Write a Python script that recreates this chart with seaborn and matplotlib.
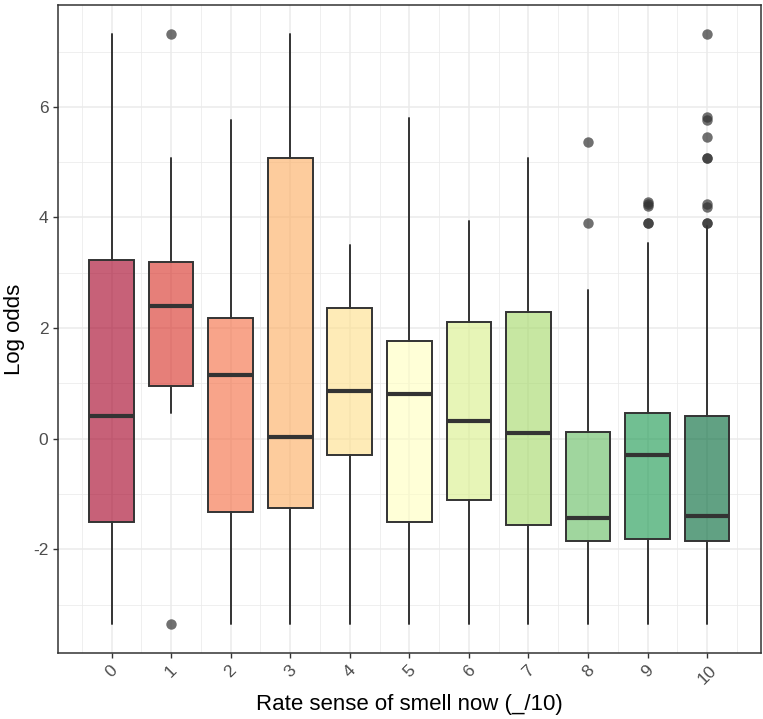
import numpy as np
import seaborn as sns
import matplotlib.pyplot as plt
from matplotlib.ticker import MultipleLocator

# values (log odds by smell rating)
ratings = ["0", "1", "2", "3", "4", "5", "6", "7", "8", "9", "10"]
q1 = [-1.50, 0.95, -1.33, -1.26, -0.30, -1.51, -1.11, -1.56, -1.84, -1.81, -1.84]
med = [0.42, 2.40, 1.16, 0.03, 0.87, 0.80, 0.32, 0.10, -1.44, -0.29, -1.39]
q3 = [3.23, 3.19, 2.18, 5.08, 2.36, 1.77, 2.11, 2.29, 0.13, 0.46, 0.42]
whis_lo = [-3.34, 0.46, -3.34, -3.34, -3.34, -3.34, -3.34, -3.34, -3.34, -3.34, -3.34]
whis_hi = [7.31, 5.08, 5.76, 7.31, 3.51, 5.80, 3.94, 5.08, 2.69, 3.53, 3.85]
outliers = [
    [],
    [7.31, -3.35],
    [],
    [],
    [],
    [],
    [],
    [],
    [5.37, 3.90],
    [4.28, 4.21, 4.24, 3.90, 3.90],
    [7.31, 5.82, 5.76, 5.46, 5.08, 5.08, 4.25, 4.19, 3.90, 3.90],
]

# brewer RdYlGn, 11 classes
box_colors = ["#a50026", "#d73027", "#f46d43", "#fdae61", "#fee08b", "#ffffbf",
              "#d9ef8b", "#a6d96a", "#66bd63", "#1a9850", "#006837"]

sns.set_theme(style="whitegrid")
plt.rcParams['font.family'] = ['Liberation Sans', 'DejaVu Sans']
plt.rcParams['axes.unicode_minus'] = False

colors = sns.color_palette(box_colors)

fig = plt.figure(figsize=(7.63, 7.19), dpi=100)
ax = fig.add_axes([0.076, 0.092, 0.921, 0.901])

stats = []
for i in range(len(ratings)):
    stats.append({"q1": q1[i], "med": med[i], "q3": q3[i],
                  "whislo": whis_lo[i], "whishi": whis_hi[i],
                  "fliers": outliers[i]})

bp = ax.bxp(stats, positions=np.arange(len(ratings)), widths=0.75,
            patch_artist=True, showcaps=False, manage_ticks=False,
            boxprops=dict(edgecolor="#333333", linewidth=1.4),
            whiskerprops=dict(color="#333333", linewidth=1.4),
            medianprops=dict(color="#333333", linewidth=3.0, solid_capstyle="butt"),
            flierprops=dict(marker="o", markerfacecolor="#333333",
                            markeredgecolor="none", markersize=7.5, alpha=0.7))
for patch, c in zip(bp["boxes"], colors):
    patch.set_facecolor((c[0], c[1], c[2], 0.62))
    patch.set_zorder(2)

ax.set_xlim(-0.9, len(ratings) - 0.1)
ax.set_ylim(-3.87, 7.84)
ax.set_xticks(np.arange(len(ratings)))
ax.set_xticklabels(ratings, rotation=45, ha="center", va="top")
ax.xaxis.set_minor_locator(MultipleLocator(1, offset=0.5))
ax.yaxis.set_major_locator(MultipleLocator(2))
ax.yaxis.set_minor_locator(MultipleLocator(1))

ax.grid(which="major", color="#ebebeb", linewidth=1.1)
ax.grid(which="minor", color="#ebebeb", linewidth=0.55)
ax.set_axisbelow(True)
for s in ax.spines.values():
    s.set_color("#333333")
    s.set_linewidth(1.1)

ax.tick_params(axis="both", which="major", length=3.5, width=1.0, color="#333333",
               labelsize=12.5, labelcolor="#4d4d4d", bottom=True, left=True)
ax.tick_params(axis="both", which="minor", length=0)

ax.set_xlabel("Rate sense of smell now (_/10)", fontsize=16, color="black", labelpad=5)
ax.set_ylabel("Log odds", fontsize=16, color="black", labelpad=6)

fig.savefig("out.png", dpi=100)
